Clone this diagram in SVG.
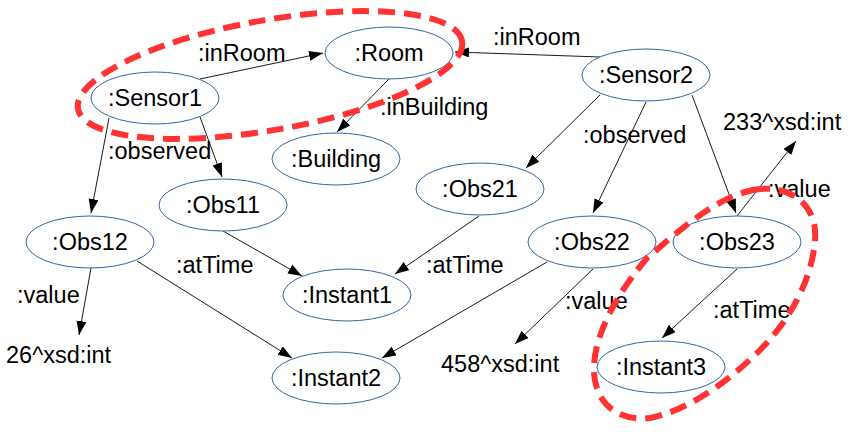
<svg xmlns="http://www.w3.org/2000/svg" width="855" height="432" viewBox="0 0 855 432">
<defs>
<style>
.node ellipse{fill:#ffffff;stroke:#3465a4;stroke-width:1}
text{font-family:"Liberation Sans",Arial,sans-serif;font-size:23.5px;fill:#000000}
.node text{text-anchor:middle}
.edge line{stroke:#000000;stroke-width:0.9;marker-end:url(#arr)}
.hl{fill:none;stroke:#ff3333;stroke-width:6;stroke-dasharray:17 9}
</style>
<marker id="arr" markerUnits="userSpaceOnUse" markerWidth="15" markerHeight="11" refX="14" refY="5" orient="auto">
<path d="M0,0 L14,5 L0,10 Z" fill="#000000"/>
</marker>
</defs>
<rect width="855" height="432" fill="#ffffff"/>
<g id="connectors" class="edge">
<line x1="200" y1="79" x2="323" y2="53"/>
<line x1="600" y1="57" x2="455" y2="52"/>
<line x1="389" y1="79" x2="337" y2="132"/>
<line x1="109" y1="118" x2="91" y2="213"/>
<line x1="200" y1="117" x2="222" y2="177"/>
<line x1="600" y1="95" x2="526" y2="168"/>
<line x1="646" y1="102" x2="593" y2="213"/>
<line x1="692" y1="95" x2="736" y2="213"/>
<line x1="737" y1="216" x2="796" y2="141"/>
<line x1="91" y1="268" x2="79" y2="335"/>
<line x1="137" y1="261" x2="292" y2="358"/>
<line x1="223" y1="231" x2="302" y2="276"/>
<line x1="479" y1="216" x2="395" y2="274"/>
<line x1="547" y1="262" x2="382" y2="358"/>
<line x1="593" y1="269" x2="515" y2="344"/>
<line x1="737" y1="269" x2="662" y2="338"/>
</g>
<g id="labels">
<text x="198" y="61">:inRoom</text>
<text x="493" y="45">:inRoom</text>
<text x="380" y="115">:inBuilding</text>
<text x="108" y="159">:observed</text>
<text x="583" y="143">:observed</text>
<text x="723" y="130">233^xsd:int</text>
<text x="768" y="197">:value</text>
<text x="176" y="273">:atTime</text>
<text x="426" y="273">:atTime</text>
<text x="17" y="303">:value</text>
<text x="6" y="363">26^xsd:int</text>
<text x="565" y="309">:value</text>
<text x="441" y="372">458^xsd:int</text>
<text x="713" y="318">:atTime</text>
</g>
<g id="n-room" class="node"><ellipse cx="389" cy="53" rx="64" ry="26"/><text x="389" y="61">:Room</text></g>
<g id="n-sensor1" class="node"><ellipse cx="155" cy="98" rx="64" ry="26"/><text x="155" y="106">:Sensor1</text></g>
<g id="n-building" class="node"><ellipse cx="336" cy="159" rx="64" ry="26"/><text x="336" y="167">:Building</text></g>
<g id="n-sensor2" class="node"><ellipse cx="646" cy="75" rx="64" ry="26"/><text x="646" y="83">:Sensor2</text></g>
<g id="n-obs21" class="node"><ellipse cx="480" cy="189" rx="64" ry="26"/><text x="480" y="197">:Obs21</text></g>
<g id="n-obs11" class="node"><ellipse cx="223" cy="205" rx="64" ry="26"/><text x="223" y="213">:Obs11</text></g>
<g id="n-obs12" class="node"><ellipse cx="90" cy="242" rx="64" ry="26"/><text x="90" y="250">:Obs12</text></g>
<g id="n-obs22" class="node"><ellipse cx="592" cy="242" rx="64" ry="26"/><text x="592" y="250">:Obs22</text></g>
<g id="n-obs23" class="node"><ellipse cx="737" cy="242" rx="64" ry="26"/><text x="737" y="250">:Obs23</text></g>
<g id="n-instant1" class="node"><ellipse cx="347" cy="295" rx="64" ry="26"/><text x="347" y="303">:Instant1</text></g>
<g id="n-instant2" class="node"><ellipse cx="336" cy="378" rx="64" ry="26"/><text x="336" y="386">:Instant2</text></g>
<g id="n-instant3" class="node"><ellipse cx="661" cy="367" rx="64" ry="26"/><text x="661" y="375">:Instant3</text></g>
<g id="highlights">
<ellipse class="hl" cx="270" cy="75" rx="195" ry="55" transform="rotate(-10 270 75)"/>
<path class="hl" d="M753,190 C790,183 818,205 815,240 C812,280 790,320 760,350 C730,380 690,410 650,418 C615,422 592,400 594,365 C596,330 620,290 647,258 C680,230 715,198 753,190 Z"/>
</g>
</svg>
